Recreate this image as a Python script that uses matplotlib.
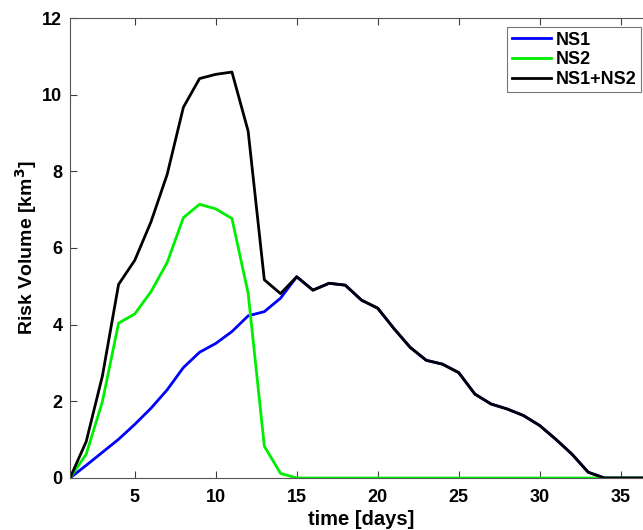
import numpy as np
import matplotlib
matplotlib.use('Agg')
import matplotlib.pyplot as plt

plt.rcParams['font.family'] = ['Liberation Sans', 'DejaVu Sans']
plt.rcParams['font.weight'] = 'bold'
plt.rcParams['mathtext.default'] = 'bf'

days = np.arange(1, 38)

ns1 = [0.0, 0.33, 0.67, 1.01, 1.40, 1.82, 2.30, 2.88, 3.28, 3.51,
       3.82, 4.23, 4.34, 4.69, 5.25, 4.90, 5.08, 5.03, 4.64, 4.43,
       3.90, 3.41, 3.07, 2.97, 2.75, 2.19, 1.93, 1.80, 1.63, 1.37,
       1.01, 0.62, 0.15, 0.0, 0.0, 0.0, 0.0]
ns2 = [0.0, 0.62, 1.99, 4.04, 4.28, 4.86, 5.62, 6.79, 7.14, 7.02,
       6.77, 4.82, 0.83, 0.12, 0.0, 0.0, 0.0, 0.0, 0.0, 0.0,
       0.0, 0.0, 0.0, 0.0, 0.0, 0.0, 0.0, 0.0, 0.0, 0.0,
       0.0, 0.0, 0.0, 0.0, 0.0, 0.0, 0.0]
total = np.array(ns1) + np.array(ns2)

fig = plt.figure(figsize=(6.43, 5.30), dpi=100)
ax = fig.add_axes([70 / 643, 52 / 530, 583 / 643, 460 / 530])

ax.plot(days, ns1, color='#0000ff', lw=2.0, label='NS1')
ax.plot(days, ns2, color='#00ee00', lw=2.0, label='NS2')
ax.plot(days, total, color='black', lw=2.0, label='NS1+NS2')

ax.set_xlim(1, 37)
ax.set_ylim(0, 12)
ax.set_xticks([5, 10, 15, 20, 25, 30, 35])
ax.set_yticks(range(0, 13, 2))
ax.tick_params(direction='in', top=True, right=True, length=5, width=0.8,
               color='#404040', labelsize=13)
ax.tick_params(axis='x', pad=8)
ax.tick_params(axis='y', pad=5.5)
for s in ax.spines.values():
    s.set_color('#555555')
    s.set_linewidth(0.8)

ax.set_xlabel('time [days]', fontsize=14.5, fontweight='bold', labelpad=3)
ax.set_ylabel('Risk Volume [km$^3$]', fontsize=14, fontweight='bold', labelpad=2)

leg = ax.legend(loc='upper right', bbox_to_anchor=(641 / 643, 1 - 27 / 530),
                bbox_transform=fig.transFigure, fontsize=13, handlelength=2.2,
                frameon=True, fancybox=False, borderpad=0.25, labelspacing=0.15,
                handletextpad=0.25, borderaxespad=0)
leg.get_frame().set_edgecolor('#555555')
leg.get_frame().set_linewidth(0.8)
for t in leg.get_texts():
    t.set_fontweight('bold')

fig.savefig('out.png', dpi=100)
